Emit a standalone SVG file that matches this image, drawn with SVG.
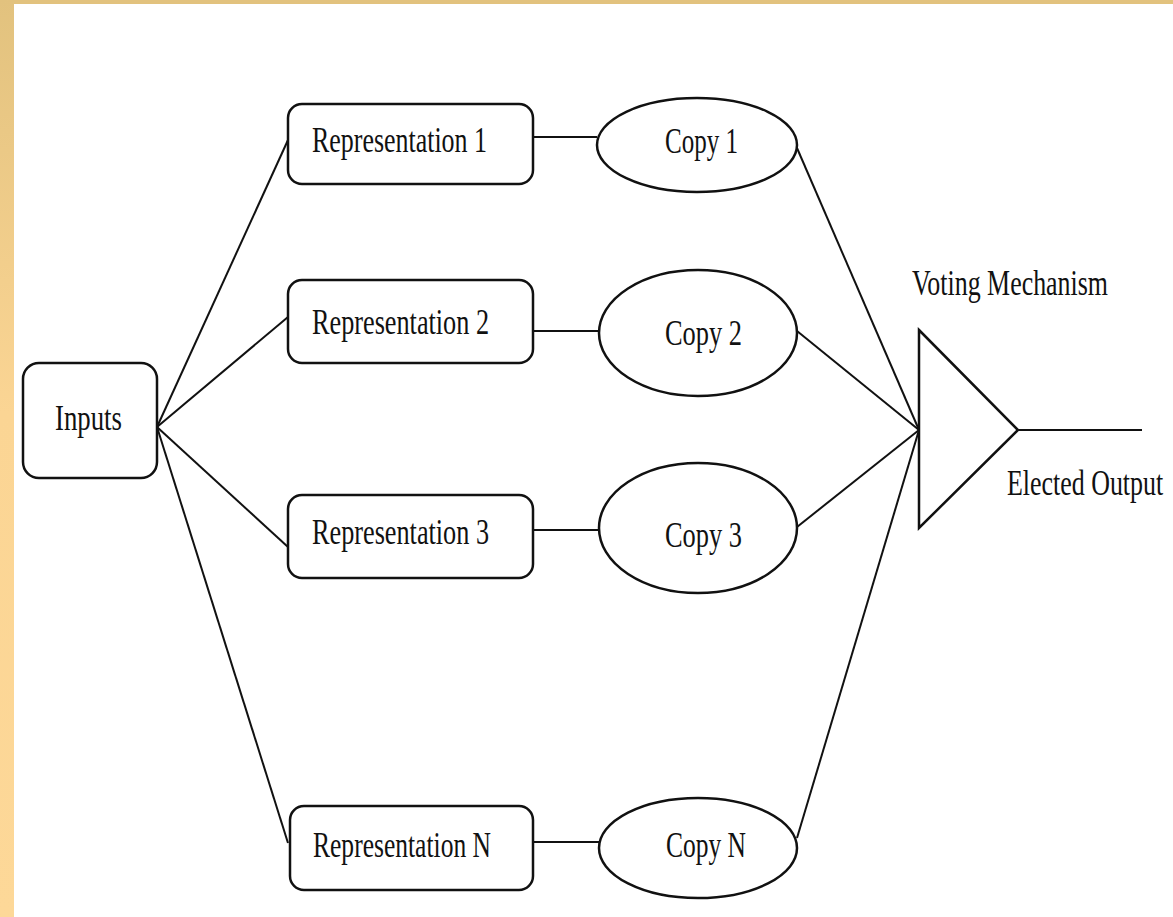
<svg xmlns="http://www.w3.org/2000/svg" width="1173" height="917" viewBox="0 0 1173 917">
<defs>
<linearGradient id="band" x1="0" y1="0" x2="0" y2="1">
<stop offset="0" stop-color="#E2C27E"/>
<stop offset="0.45" stop-color="#FBD594"/>
<stop offset="1" stop-color="#FDD898"/>
</linearGradient>
<style>
.box{fill:#fff;stroke:#111;stroke-width:2.5}
.ell{fill:#fff;stroke:#111;stroke-width:2.5}
.ln{stroke:#111;stroke-width:2;fill:none}
.t{font-family:"Liberation Serif","Times New Roman",serif;font-size:36px;fill:#111}
</style>
</defs>
<rect x="0" y="0" width="1173" height="917" fill="#fff"/>
<rect x="0" y="0" width="1173" height="4" fill="#E2C27E"/>
<rect x="0" y="0" width="14" height="917" fill="url(#band)"/>
<g id="connectors">
<line class="ln" x1="157" y1="427" x2="288" y2="140"/>
<line class="ln" x1="157" y1="427" x2="288" y2="317"/>
<line class="ln" x1="157" y1="427" x2="288" y2="547"/>
<line class="ln" x1="157" y1="427" x2="288" y2="843"/>
<line class="ln" x1="533" y1="137" x2="597" y2="137"/>
<line class="ln" x1="533" y1="331" x2="599" y2="331"/>
<line class="ln" x1="533" y1="530" x2="599" y2="530"/>
<line class="ln" x1="533" y1="842" x2="599" y2="842"/>
<line class="ln" x1="797" y1="148" x2="919" y2="430"/>
<line class="ln" x1="797" y1="331" x2="919" y2="430"/>
<line class="ln" x1="797" y1="527" x2="919" y2="430"/>
<line class="ln" x1="797" y1="838" x2="919" y2="430"/>
<line class="ln" x1="1018" y1="430" x2="1142" y2="430"/>
</g>
<g id="inputs">
<rect class="box" x="23" y="363" width="134" height="115" rx="16"/>
<text class="t" x="55" y="430" textLength="67" lengthAdjust="spacingAndGlyphs">Inputs</text>
</g>
<g id="rep1">
<rect class="box" x="288" y="104" width="245" height="80" rx="14"/>
<text class="t" x="312" y="152" textLength="175" lengthAdjust="spacingAndGlyphs">Representation 1</text>
</g>
<g id="rep2">
<rect class="box" x="288" y="280" width="245" height="83" rx="14"/>
<text class="t" x="312" y="334" textLength="177" lengthAdjust="spacingAndGlyphs">Representation 2</text>
</g>
<g id="rep3">
<rect class="box" x="288" y="495" width="245" height="83" rx="14"/>
<text class="t" x="312" y="544" textLength="177" lengthAdjust="spacingAndGlyphs">Representation 3</text>
</g>
<g id="repN">
<rect class="box" x="290" y="806" width="243" height="84" rx="14"/>
<text class="t" x="313" y="857" textLength="178" lengthAdjust="spacingAndGlyphs">Representation N</text>
</g>
<g id="copy1">
<ellipse class="ell" cx="697" cy="145" rx="100" ry="47"/>
<text class="t" x="665" y="153" textLength="73" lengthAdjust="spacingAndGlyphs">Copy 1</text>
</g>
<g id="copy2">
<ellipse class="ell" cx="698" cy="333" rx="99" ry="63"/>
<text class="t" x="665" y="345" textLength="77" lengthAdjust="spacingAndGlyphs">Copy 2</text>
</g>
<g id="copy3">
<ellipse class="ell" cx="698" cy="528" rx="99" ry="65"/>
<text class="t" x="665" y="547" textLength="77" lengthAdjust="spacingAndGlyphs">Copy 3</text>
</g>
<g id="copyN">
<ellipse class="ell" cx="698" cy="848" rx="99" ry="50"/>
<text class="t" x="666" y="857" textLength="80" lengthAdjust="spacingAndGlyphs">Copy N</text>
</g>
<g id="voting">
<polygon class="box" points="919,330 1018,430 919,528"/>
<text class="t" transform="translate(912,295) scale(0.72,1)" x="0" y="0">Voting Mechanism</text>
</g>
<g id="output">
<text class="t" transform="translate(1007,495) scale(0.72,1)" x="0" y="0">Elected Output</text>
</g>
</svg>
